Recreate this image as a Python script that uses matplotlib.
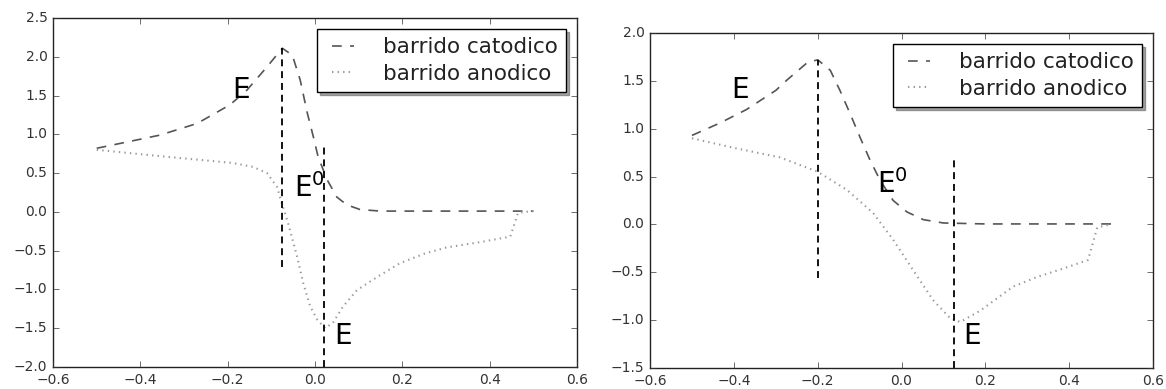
import matplotlib
matplotlib.use("Agg")
import matplotlib.pyplot as plt

plt.style.use('classic')
plt.rcParams['mathtext.fontset'] = 'dejavusans'
plt.rcParams['lines.scale_dashes'] = False

# Left panel data
l_cat_x = [-0.5, -0.44, -0.355, -0.27, -0.195, -0.156, -0.11, -0.075, -0.052, -0.034, -0.018, -0.004, 0.007, 0.028, 0.05, 0.073, 0.103, 0.15, 0.3, 0.5]
l_cat_y = [0.82, 0.89, 0.99, 1.14, 1.38, 1.57, 1.87, 2.11, 2.02, 1.70, 1.28, 0.97, 0.71, 0.41, 0.19, 0.09, 0.03, 0.01, 0.01, 0.01]
l_an_x = [-0.5, -0.34, -0.263, -0.188, -0.142, -0.11, -0.087, -0.076, -0.062, -0.041, -0.027, -0.011, 0.005, 0.023, 0.041, 0.064, 0.096, 0.142, 0.195, 0.25, 0.30, 0.378, 0.447, 0.465, 0.5]
l_an_y = [0.80, 0.71, 0.67, 0.63, 0.58, 0.50, 0.32, 0.11, -0.14, -0.58, -0.92, -1.22, -1.39, -1.50, -1.43, -1.22, -1.01, -0.84, -0.66, -0.54, -0.46, -0.39, -0.32, -0.01, 0.01]

# Right panel data
r_cat_x = [-0.5, -0.433, -0.37, -0.30, -0.273, -0.225, -0.2, -0.17, -0.147, -0.123, -0.099, -0.075, -0.051, -0.02, 0.013, 0.052, 0.10, 0.2, 0.5]
r_cat_y = [0.93, 1.06, 1.20, 1.40, 1.51, 1.69, 1.72, 1.61, 1.40, 1.16, 0.91, 0.67, 0.46, 0.25, 0.13, 0.05, 0.015, 0.005, 0.005]
r_an_x = [-0.5, -0.40, -0.29, -0.2, -0.13, -0.068, -0.02, 0.028, 0.075, 0.116, 0.14, 0.188, 0.266, 0.323, 0.40, 0.445, 0.467, 0.498]
r_an_y = [0.90, 0.80, 0.70, 0.55, 0.36, 0.12, -0.16, -0.48, -0.79, -0.98, -1.02, -0.90, -0.65, -0.55, -0.44, -0.37, -0.03, 0.0]

# Vertical marker lines: (x, ymin, ymax)
l_vlines = [(-0.075, -0.71, 2.11), (0.02, -2.0, 0.84)]
r_vlines = [(-0.2, -0.56, 1.72), (0.125, -1.5, 0.71)]

# Annotations: (x, y, text)
l_texts = [(-0.19, 1.47, "E"), (-0.048, 0.19, "E$^0$"), (0.044, -1.70, "E")]
r_texts = [(-0.407, 1.32, "E"), (-0.058, 0.33, "E$^0$"), (0.147, -1.25, "E")]

labels = ["barrido catodico", "barrido anodico"]

fig = plt.figure(figsize=(11.66, 3.89), dpi=100, facecolor='white')
ax1 = fig.add_axes([0.0455, 0.0566, 0.4494, 0.8972])
ax2 = fig.add_axes([0.5575, 0.054, 0.4314, 0.8612])

def draw(ax, cx, cy, axx, ayy, vl, tx, ylim, yticks):
    ax.plot(cx, cy, color='#555555', lw=1.2, linestyle=(0, (7, 6)), label=labels[0])
    ax.plot(axx, ayy, ':', color='#999999', lw=1.5, label=labels[1])
    for x, y0, y1 in vl:
        ax.plot([x, x], [y0, y1], color='k', lw=1.3, linestyle=(0, (5, 3.5)))
    for x, y, t in tx:
        ax.text(x, y, t, fontsize=20, color='k', ha='left', va='baseline')
    ax.set_xlim(-0.6, 0.6)
    ax.set_ylim(*ylim)
    ax.set_yticks(yticks)
    ax.tick_params(labelsize=10, colors='#333333')
    for s in ax.spines.values():
        s.set_color('#222222')
    leg = ax.legend(loc='upper right', shadow=True, fontsize=15.5, handlelength=1.6,
                    handletextpad=1.05, borderpad=0.4, labelspacing=0.3,
                    borderaxespad=0.5, fancybox=False, numpoints=2)
    leg.get_frame().set_linewidth(1.0)
    for t in leg.get_texts():
        t.set_color('#222222')

draw(ax1, l_cat_x, l_cat_y, l_an_x, l_an_y, l_vlines, l_texts, (-2.0, 2.5),
     [-2.0, -1.5, -1.0, -0.5, 0.0, 0.5, 1.0, 1.5, 2.0, 2.5])
draw(ax2, r_cat_x, r_cat_y, r_an_x, r_an_y, r_vlines, r_texts, (-1.5, 2.0),
     [-1.5, -1.0, -0.5, 0.0, 0.5, 1.0, 1.5, 2.0])

fig.savefig("out.png", dpi=100, facecolor='white')
